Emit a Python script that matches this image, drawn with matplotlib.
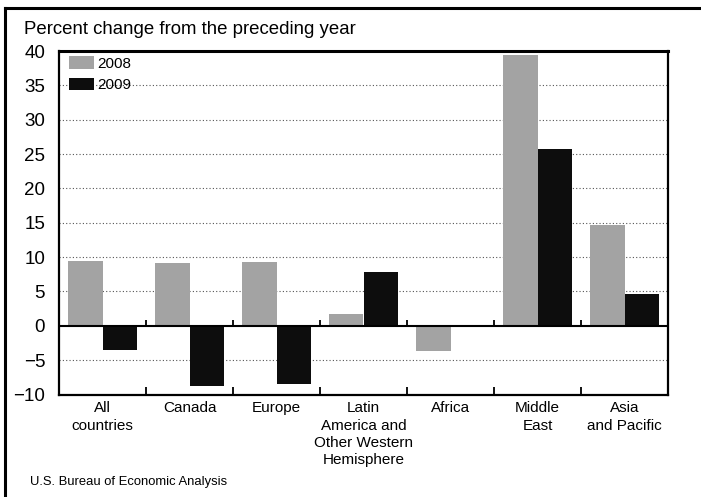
import matplotlib
matplotlib.use("Agg")
import matplotlib.pyplot as plt
from matplotlib.lines import Line2D
from matplotlib.ticker import FixedLocator
import numpy as np

plt.rcParams['font.family'] = ['Liberation Sans', 'DejaVu Sans']

categories = ["All\ncountries", "Canada", "Europe",
              "Latin\nAmerica and\nOther Western\nHemisphere",
              "Africa", "Middle\nEast", "Asia\nand Pacific"]
values_2008 = [9.5, 9.2, 9.3, 1.7, -3.7, 39.4, 14.7]
values_2009 = [-3.5, -8.8, -8.5, 7.8, 0.1, 25.8, 4.7]
series_labels = ["2008", "2009"]
yticks = [-10, -5, 0, 5, 10, 15, 20, 25, 30, 35, 40]
ytick_labels = ["\u221210", "\u22125", "0", "5", "10", "15", "20", "25", "30", "35", "40"]

W, H = 701, 497
fig = plt.figure(figsize=(W / 100, H / 100), dpi=100)
ax = fig.add_axes([59 / W, 1 - 394.5 / H, (668 - 59) / W, (394.5 - 51) / H])

x = np.arange(len(categories))
bw = 0.40
ax.bar(x - bw / 2, values_2008, bw, color='#a3a3a3', label=series_labels[0], zorder=3)
ax.bar(x + bw / 2, values_2009, bw, color='#0d0d0d', label=series_labels[1], zorder=3)

ax.set_xlim(-0.5, len(categories) - 0.5)
ax.set_ylim(-10, 40)

# gridlines
for yv in yticks:
    if yv in (-10, 0, 40):
        continue
    ax.axhline(yv, color='#555555', lw=0.8, ls=(0, (1, 2)), zorder=1)
ax.axhline(0, color='black', lw=1.5, zorder=4)

ax.set_yticks(yticks)
ax.set_yticklabels(ytick_labels, fontsize=13.5)
ax.tick_params(axis='y', length=0, pad=10)

ax.set_xticks(x)
ax.set_xticklabels(categories, fontsize=11, linespacing=1.3)
ax.tick_params(axis='x', which='major', length=0, pad=5)

bounds = list(np.arange(len(categories) - 1) + 0.5)
ax.xaxis.set_minor_locator(FixedLocator(bounds))
ax.tick_params(axis='x', which='minor', direction='in', length=6, width=1.3, color='black')
# group ticks rising from the zero line
ax.vlines(bounds, 0, 0.9, color='black', lw=1.3, zorder=4)

for s in ax.spines.values():
    s.set_linewidth(1.6)
    s.set_color('black')
ax.spines['top'].set_linewidth(2.2)

leg = ax.legend(loc='upper left', bbox_to_anchor=(0.017, 0.985), frameon=False,
                fontsize=11, handlelength=1.6, handleheight=0.9, handletextpad=0.2,
                labelspacing=0.45, borderpad=0, borderaxespad=0)

fig.text(24 / W, 1 - 30 / H, "Percent change from the preceding year",
         fontsize=13.4, va='center', ha='left')
fig.text(30 / W, 1 - 482 / H, "U.S. Bureau of Economic Analysis",
         fontsize=9.4, va='center', ha='left')

# outer frame
fig.add_artist(Line2D([5 / W, 1], [1 - 8 / H, 1 - 8 / H], transform=fig.transFigure,
                      color='black', lw=2.2))
fig.add_artist(Line2D([5 / W, 5 / W], [1 - 8 / H, 0], transform=fig.transFigure,
                      color='black', lw=2.2))

fig.savefig("out.png", dpi=100)
